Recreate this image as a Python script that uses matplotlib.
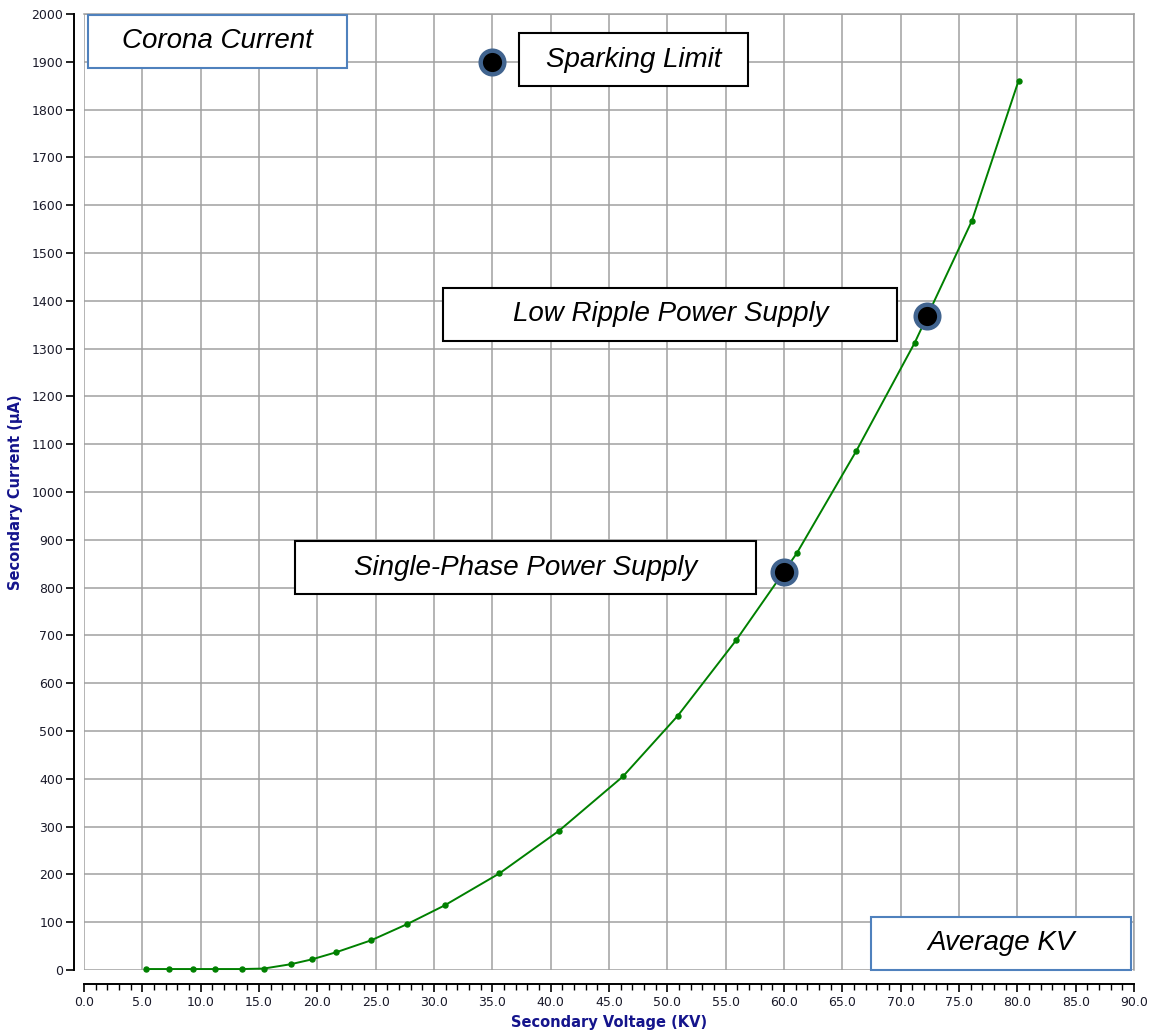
import matplotlib
matplotlib.use("Agg")
import matplotlib.pyplot as plt
from matplotlib.patches import Rectangle
from matplotlib.ticker import MultipleLocator, FormatStrFormatter

# ---- data ----
kv = [5.3, 7.3, 9.3, 11.2, 13.5, 15.4, 17.7, 19.5, 21.6, 24.6, 27.7, 30.9,
      35.6, 40.7, 46.2, 50.9, 55.9, 61.1, 66.2, 71.2, 76.1, 80.1]
ua = [2, 2, 2, 2, 2, 3, 12, 22, 37, 62, 96, 135,
      202, 291, 405, 532, 690, 872, 1086, 1312, 1567, 1860]

point_labels = ["Sparking Limit", "Low Ripple Power Supply", "Single-Phase Power Supply"]
point_kv = [35.0, 72.25, 60.0]
point_ua = [1900, 1368, 833]

# boxes: label, extents, edge colour
box_labels = ["Corona Current", "Sparking Limit", "Low Ripple Power Supply",
              "Single-Phase Power Supply", "Average KV"]
box_x0 = [0.35, 37.3, 30.8, 18.1, 67.45]
box_x1 = [22.5, 56.9, 69.7, 57.6, 89.7]
box_y0 = [1887, 1849, 1316, 787, 0]
box_y1 = [1998, 1960, 1427, 897, 111]
box_edge = ["#4f81bd", "black", "black", "black", "#4f81bd"]

fig = plt.figure(figsize=(11.53, 10.31), dpi=100)
ax = fig.add_axes([84 / 1153, 61 / 1031, 1050 / 1153, 956 / 1031])

ax.set_xlim(0, 90)
ax.set_ylim(0, 2000)
ax.xaxis.set_major_locator(MultipleLocator(5))
ax.xaxis.set_minor_locator(MultipleLocator(1))
ax.yaxis.set_major_locator(MultipleLocator(100))
ax.xaxis.set_major_formatter(FormatStrFormatter("%.1f"))
ax.yaxis.set_major_formatter(FormatStrFormatter("%d"))

ax.grid(True, which="major", color="#a0a0a0", linewidth=1.1)
ax.set_axisbelow(True)

for s in ["top", "right"]:
    ax.spines[s].set_color("#a0a0a0")
    ax.spines[s].set_linewidth(1.1)
ax.spines["left"].set_position(("outward", 7))
ax.spines["bottom"].set_position(("outward", 10))
ax.spines["left"].set_linewidth(1.4)
ax.spines["bottom"].set_linewidth(1.4)

ax.tick_params(axis="both", which="major", direction="out", length=6, width=1.2,
               labelsize=9, colors="black", labelcolor="#1a1a2a")
ax.tick_params(axis="x", which="minor", direction="out", length=4, width=1.0)
ax.tick_params(axis="y", pad=2)
ax.tick_params(axis="x", pad=3)

ax.set_xlabel("Secondary Voltage (KV)", fontsize=10.5, fontweight="bold",
              color="#14148c", labelpad=4)
ax.set_ylabel("Secondary Current (µA)", fontsize=10.5, fontweight="bold",
              color="#14148c", labelpad=6)

# curve
ax.plot(kv, ua, color="#008000", linewidth=1.4, marker="o", markersize=3.6,
        zorder=3, clip_on=False)

# boxes with text
for lab, x0, x1, y0, y1, ec in zip(box_labels, box_x0, box_x1, box_y0, box_y1, box_edge):
    ax.add_patch(Rectangle((x0, y0), x1 - x0, y1 - y0, facecolor="white",
                           edgecolor=ec, linewidth=1.5, zorder=4, clip_on=False))
    ax.text((x0 + x1) / 2, (y0 + y1) / 2, lab, ha="center", va="center",
            fontsize=20, style="italic", family="Liberation Sans",
            color="black", zorder=5)

# highlighted points
ax.plot(point_kv, point_ua, linestyle="none", marker="o", markersize=17,
        markerfacecolor="black", markeredgecolor="#41648f", markeredgewidth=3.2,
        zorder=6)

fig.savefig("out.png", dpi=100, facecolor="white")
